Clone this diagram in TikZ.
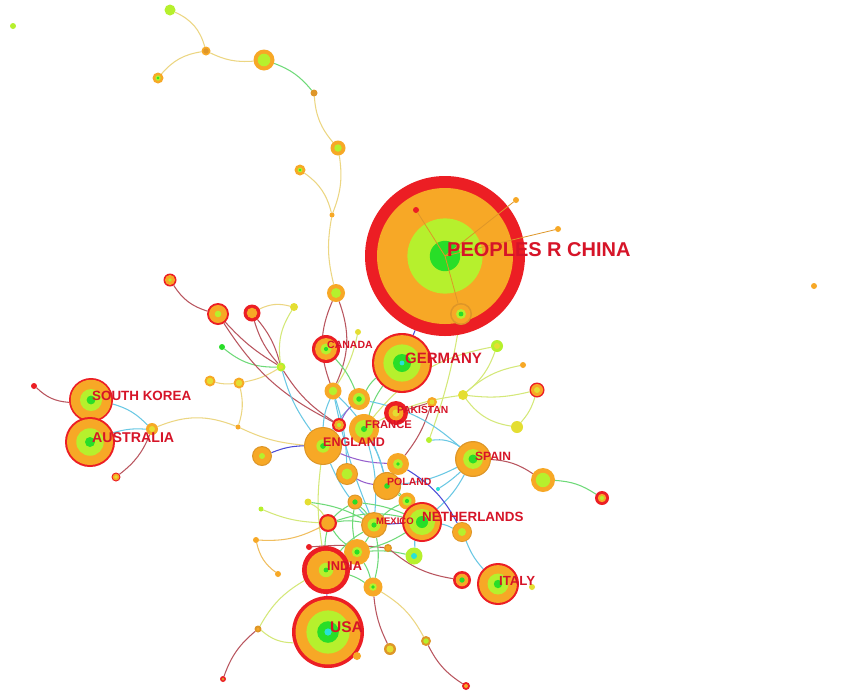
\documentclass[tikz,border=0pt]{standalone}
\usepackage{fontspec}
\setmainfont{Liberation Sans}
\pgfdeclarelayer{bglayer}
\pgfdeclarelayer{edgelayer}
\pgfsetlayers{bglayer,edgelayer,main}
\definecolor{cred}{RGB}{236,30,36}
\definecolor{cora}{RGB}{247,168,38}
\definecolor{cdo}{RGB}{222,150,40}
\definecolor{cyg}{RGB}{182,240,45}
\definecolor{cyel}{RGB}{228,222,50}
\definecolor{cgr}{RGB}{40,222,40}
\definecolor{ccy}{RGB}{40,225,215}
\definecolor{labc}{RGB}{214,20,40}
\definecolor{eY}{RGB}{236,214,130}
\definecolor{eYG}{RGB}{212,232,120}
\definecolor{eG}{RGB}{110,218,120}
\definecolor{eC}{RGB}{105,200,228}
\definecolor{eB}{RGB}{75,75,215}
\definecolor{eP}{RGB}{150,95,205}
\definecolor{eR}{RGB}{185,85,95}
\definecolor{eO}{RGB}{240,190,95}
\newcommand\mybub[5]{%
  \node[bubble, fill=#4, minimum size={2*#3pt}] (#1) at (#2) {};
  \foreach \bcol/\bfr in {#5}{\fill[\bcol] (#1.center) circle ({\bfr*#3pt});}%
}
\tikzset{
  bubble/.style={circle, inner sep=0pt, outer sep=0pt, draw=none},
  ed/.style={line width=1.05pt},
  lab/.style={text=labc, font=\bfseries, inner sep=0pt, anchor=west},
}
\begin{document}
\begin{tikzpicture}[x=1pt,y=-1pt]
\begin{pgfonlayer}{bglayer}
\fill[white] (0,0) rectangle (865,694);
\end{pgfonlayer}
\useasboundingbox (0,0) rectangle (865,694);

% ---------------- China and attached nodes
\mybub{cn}{445,256}{80}{cred}{cora/0.85, cyg/0.47, cgr/0.19}
\mybub{c4}{461,314}{11}{cdo}{cora/0.85, cyg/0.45, cgr/0.22}
\mybub{c6}{416,210}{3}{cred}{cred/0.5}
\mybub{c7}{516,200}{3}{cora}{cora/0.5}
\mybub{c8}{558,229}{3}{cora}{cora/0.5}
\draw[ed, cdo, line width=0.8pt] (cn.center) -- (c6);
\draw[ed, cdo, line width=0.8pt] (cn.center) -- (c7);
\draw[ed, cdo, line width=0.8pt] (cn.center) -- (c8);
\draw[ed, cdo, line width=0.8pt] (cn.center) -- (c4);

% ---------------- top chain
\mybub{t1}{170,10}{5.5}{cyg}{cyg/0.5}
\mybub{t2}{206,51}{4.5}{cora}{cdo/0.6}
\mybub{t3}{158,78}{5.5}{cora}{cyg/0.5, cgr/0.25}
\mybub{t4}{264,60}{10.5}{cora}{cyg/0.6}
\mybub{t5}{314,93}{3.5}{cdo}{cdo/0.5}
\mybub{t6}{338,148}{7.5}{cora}{cyg/0.5}
\mybub{t7}{300,170}{5.5}{cora}{cyg/0.45, cgr/0.2}
\mybub{t8}{332,215}{2.5}{cora}{cora/0.5}
\mybub{t9}{336,293}{9}{cora}{cyg/0.55}
\mybub{iso1}{13,26}{3}{cyg}{cyg/0.5}
\mybub{iso2}{814,286}{3}{cora}{cora/0.5}

% ---------------- left
\mybub{l1}{170,280}{6.5}{cred}{cora/0.78, cyg/0.3}
\mybub{l2}{218,314}{11}{cred}{cora/0.82, cyg/0.3}
\mybub{l3}{252,313}{8.5}{cred}{cora/0.62}
\mybub{l4}{294,307}{4}{cyel}{cyel/0.5}
\mybub{l5}{222,347}{3}{cgr}{cgr/0.5}
\mybub{l6}{281,367}{4.5}{cyg}{cyel/0.5}
\mybub{l7}{210,381}{5.5}{cora}{cyel/0.6}
\mybub{l8}{239,383}{5.5}{cora}{cyel/0.6}
\mybub{l9}{238,427}{2.5}{cora}{cora/0.5}
\mybub{l10}{152,429}{6}{cora}{cyel/0.5}
\mybub{l11}{116,477}{4.5}{cred}{cora/0.75, cyel/0.4}
\mybub{l12}{34,386}{3}{cred}{cred/0.5}
\mybub{kr}{91,400}{22}{cred}{cora/0.92, cyg/0.5, cgr/0.2}
\mybub{au}{90,442}{25}{cred}{cora/0.92, cyg/0.55, cgr/0.2}

% ---------------- centre
\mybub{ca}{326,349}{14}{cred}{cora/0.78, cyg/0.4, cgr/0.15}
\mybub{c1}{358,332}{3}{cyel}{cyel/0.5}
\mybub{c2}{333,391}{8.5}{cora}{cyg/0.5}
\mybub{c3}{359,399}{11}{cora}{cyg/0.55, cgr/0.25}
\mybub{de}{402,363}{30}{cred}{cora/0.93, cyg/0.62, cgr/0.3, ccy/0.08}
\mybub{c5}{497,346}{6}{cyg}{cyel/0.5}
\mybub{pk}{396,413}{12}{cred}{cora/0.62, cyel/0.3}
\mybub{c9}{432,402}{5}{cora}{cyel/0.5}
\mybub{c10}{339,425}{7}{cred}{cora/0.7, cyg/0.3}
\mybub{fr}{364,429}{15}{cora}{cyg/0.6, cgr/0.2}
\mybub{en}{323,446}{19}{cdo}{cora/0.94, cyg/0.35, cgr/0.15}
\mybub{c11}{262,456}{10}{cdo}{cora/0.88, cyg/0.3}
\mybub{c12}{398,464}{11}{cora}{cyg/0.45, cgr/0.18}
\mybub{c13}{347,474}{11}{cdo}{cora/0.9, cyg/0.5}
\mybub{pl}{387,486}{14}{cdo}{cora/0.92, cgr/0.2}
\mybub{es}{473,459}{18}{cdo}{cora/0.93, cyg/0.55, cgr/0.25}
\mybub{c14}{429,440}{3}{cyg}{cyg/0.5}
\mybub{c15}{438,489}{2}{ccy}{ccy/0.5}
\mybub{r1}{463,395}{5}{cyel}{cyel/0.5}
\mybub{r2}{537,390}{7.5}{cred}{cora/0.8, cyel/0.4}
\mybub{r3}{517,427}{6}{cyel}{cyel/0.5}
\mybub{r4}{523,365}{3}{cora}{cora/0.5}
\mybub{r5}{543,480}{12}{cora}{cyg/0.6}
\mybub{r6}{602,498}{7}{cred}{cora/0.6, cyg/0.3}
\mybub{c16}{355,502}{7.5}{cdo}{cora/0.85, cgr/0.35}
\mybub{c17}{407,501}{8.5}{cora}{cyg/0.55, cgr/0.25}
\mybub{c18}{308,502}{3.5}{cyel}{cyel/0.5}
\mybub{c19}{261,509}{2.5}{cyg}{cyg/0.5}
\mybub{c20}{328,523}{9}{cred}{cora/0.75}
\mybub{mx}{374,525}{13}{cdo}{cora/0.9, cyg/0.5, cgr/0.2}
\mybub{nl}{422,522}{20}{cred}{cora/0.9, cyg/0.65, cgr/0.3}
\mybub{c21}{462,532}{10}{cdo}{cora/0.9, cyg/0.4}
\mybub{c22}{256,540}{3}{cora}{cora/0.5}
\mybub{c23}{309,547}{3}{cred}{cred/0.5}
\mybub{c24}{357,552}{13}{cora}{cyg/0.4, cgr/0.2}
\mybub{c25}{388,548}{4}{cdo}{cora/0.6}
\mybub{c26}{414,556}{8.5}{cyg}{cyg/0.6, ccy/0.35}
\mybub{in}{326,570}{24}{cred}{cora/0.8, cyg/0.3, cgr/0.1}
\mybub{c27}{278,574}{3}{cora}{cora/0.5}
\mybub{c28}{373,587}{9.5}{cora}{cyg/0.4, cgr/0.2}
\mybub{c29}{462,580}{9}{cred}{cora/0.7, cgr/0.3}
\mybub{it}{498,584}{21}{cred}{cora/0.9, cyg/0.5, cgr/0.2}
\mybub{c30}{532,587}{3}{cyel}{cyel/0.5}
\mybub{us}{328,632}{36}{cred}{cora/0.9, cyg/0.6, cgr/0.3, ccy/0.1}
\mybub{c31}{258,629}{3.5}{cdo}{cora/0.5}
\mybub{c32}{223,679}{3}{cred}{cdo/0.5}
\mybub{c33}{390,649}{6}{cdo}{cyel/0.6}
\mybub{c34}{426,641}{5}{cdo}{cyg/0.55}
\mybub{c35}{466,686}{4}{cred}{cora/0.5}
\mybub{c36}{357,656}{4}{cora}{cora/0.5}

% ---------------- edges
\begin{pgfonlayer}{edgelayer}
\draw[ed, eY] (t1) to[bend left=25] (t2);
\draw[ed, eY] (t3) to[bend left=20] (t2);
\draw[ed, eY] (t2) to[bend right=15] (t4);
\draw[ed, eG] (t4) to[bend left=15] (t5);
\draw[ed, eY] (t5) to[bend right=18] (t6);
\draw[ed, eY] (t6) to[bend left=15] (t8);
\draw[ed, eY] (t7) to[bend left=20] (t8);
\draw[ed, eY] (t8) to[bend right=12] (t9);
\draw[ed, eR] (t9) to[bend left=22] (c2);
\draw[ed, eR] (t9) to[bend right=22] (c2);
\draw[ed, eYG] (c1) to[bend left=10] (c2);
% left
\draw[ed, eR] (l1) to[bend right=20] (l2);
\draw[ed, eR] (l2) to[bend right=8] (l6);
\draw[ed, eR] (l3) to[bend left=12] (l6);
\draw[ed, eR] (l3) to[bend right=12] (l6);
\draw[ed, eY] (l3) to[bend left=20] (l4);
\draw[ed, eYG] (l4) to[bend right=20] (l6);
\draw[ed, eG] (l5) to[bend right=20] (l6);
\draw[ed, eY] (l6) to[bend left=10] (l8);
\draw[ed, eY] (l7) to[bend right=10] (l8);
\draw[ed, eY] (l8) to[bend left=15] (l9);
\draw[ed, eY] (l10) to[bend left=22] (l9);
\draw[ed, eY] (l9) to[bend right=10] (en);
\draw[ed, eR] (l6) to[bend right=12] (c10);
\draw[ed, eR] (l2) to[bend right=15] (c10);
\draw[ed, eC] (l6) to[bend right=10] (en);
\draw[ed, eR] (l12) to[bend right=20] (kr);
\draw[ed, eC] (kr) to[bend left=15] (l10);
\draw[ed, eC] (au) to[bend left=10] (l10);
\draw[ed, eR] (l10) to[bend left=15] (l11);
% centre
\draw[ed, eB] (cn) -- (de);
\draw[ed, eYG] (c4) to[bend left=5] (c14);
\draw[ed, eC] (c2) to[bend right=10] (en);
\draw[ed, eC] (c2) to[bend left=8] (c13);
\draw[ed, eC] (c2) to[bend left=15] (pl);
\draw[ed, eC] (c2) to[bend right=5] (mx);
\draw[ed, eG] (ca) to[bend left=10] (c3);
\draw[ed, eG] (de) to[bend right=10] (fr);
\draw[ed, eG] (de) to[bend right=10] (c3);
\draw[ed, eYG] (c5) to[bend left=15] (r1);
\draw[ed, eYG] (c5) to[bend right=20] (fr);
\draw[ed, eYG] (r4) to[bend right=15] (r1);
\draw[ed, eYG] (r1) to[bend right=10] (r2);
\draw[ed, eYG] (r1) to[bend right=22] (r3);
\draw[ed, eYG] (r2) to[bend left=12] (r3);
\draw[ed, eYG] (r1) to[bend right=10] (fr);
\draw[ed, eR] (pk) -- (c9);
\draw[ed, eR] (c9) to[bend left=10] (c12);
\draw[ed, eR] (es) to[bend left=15] (r5);
\draw[ed, eG] (r5) to[bend left=15] (r6);
\draw[ed, eC] (es) to[bend right=20] (c14);
\draw[ed, eC] (es) to[bend left=10] (pl);
\draw[ed, eC] (es) to[bend left=5] (c15);
\draw[ed, eC] (es) to[bend left=10] (nl);
\draw[ed, eC] (es) to[bend right=15] (c3);
\draw[ed, eB] (en) to[bend right=10] (c11);
\draw[ed, eP] (en) to[bend right=10] (c12);
\draw[ed, eB] (c12) to[bend left=15] (c21);
\draw[ed, eP] (c13) to[bend right=10] (pl);
\draw[ed, eC] (en) to[bend right=10] (mx);
\draw[ed, eYG] (en) to[bend right=8] (in);
\draw[ed, eC] (fr) to[bend left=10] (mx);
\draw[ed, eC] (fr) to[bend left=8] (pl);
\draw[ed, eC] (c3) to[bend right=8] (en);
\draw[ed, eP] (c10) to[bend left=10] (c3);
\draw[ed, eG] (pl) to[bend left=8] (nl);
\draw[ed, eG] (pl) to[bend left=8] (c17);
\draw[ed, eG] (c16) to[bend left=8] (mx);
\draw[ed, eG] (c16) to[bend left=8] (nl);
\draw[ed, eG] (c16) to[bend right=8] (c20);
\draw[ed, eG] (c16) to[bend right=10] (c24);
\draw[ed, eG] (c17) to[bend left=8] (nl);
\draw[ed, eG] (c17) to[bend right=10] (mx);
\draw[ed, eYG] (c18) to[bend left=15] (c20);
\draw[ed, eG] (c18) to[bend left=10] (mx);
\draw[ed, eYG] (c19) to[bend right=10] (c20);
\draw[ed, eO] (c22) to[bend right=15] (c20);
\draw[ed, eO] (c22) to[bend right=20] (c27);
\draw[ed, eG] (c20) to[bend left=10] (mx);
\draw[ed, eG] (c20) to[bend left=15] (nl);
\draw[ed, eG] (c20) to[bend right=10] (c24);
\draw[ed, eG] (c20) to[bend right=5] (in);
\draw[ed, eR] (c23) to[bend left=5] (c25);
\draw[ed, eB] (mx) -- (nl);
\draw[ed, eG] (mx) to[bend left=8] (c24);
\draw[ed, eG] (mx) to[bend right=10] (in);
\draw[ed, eG] (in) to[bend left=10] (c24);
\draw[ed, eG] (c24) to[bend right=8] (nl);
\draw[ed, eG] (c24) to[bend left=8] (c26);
\draw[ed, eC] (nl) to[bend left=8] (c21);
\draw[ed, eC] (c21) to[bend right=10] (it);
\draw[ed, eC] (nl) to[bend right=8] (c26);
\draw[ed, eR] (c25) to[bend right=15] (c29);
\draw[ed, eG] (c24) to[bend left=8] (c28);
\draw[ed, eG] (mx) to[bend left=12] (c28);
\draw[ed, eG] (in) to[bend left=8] (c28);
\draw[ed, eP] (in) -- (us);
\draw[ed, eYG] (us) to[bend left=20] (c31);
\draw[ed, eR] (c31) to[bend right=15] (c32);
\draw[ed, eYG] (c31) to[bend left=15] (in);
\draw[ed, eR] (c28) to[bend right=10] (c33);
\draw[ed, eY] (c28) to[bend left=15] (c34);
\draw[ed, eR] (c34) to[bend right=15] (c35);
\draw[ed, eY] (us) to[bend left=10] (c36);
\end{pgfonlayer}

% ---------------- labels
\node[lab, font=\bfseries\fontsize{20}{20}\selectfont] (lcn) at (447,250) {PEOPLES R CHINA};
\node[lab, font=\bfseries\fontsize{15}{15}\selectfont] (lde) at (405,358) {GERMANY};
\node[lab, font=\bfseries\fontsize{10.5}{10.5}\selectfont] (lca) at (327,345) {CANADA};
\node[lab, font=\bfseries\fontsize{10.3}{10.3}\selectfont] (lpk) at (397,410) {PAKISTAN};
\node[lab, font=\bfseries\fontsize{11.2}{11.2}\selectfont] (lfr) at (365,425) {FRANCE};
\node[lab, font=\bfseries\fontsize{12.5}{12.5}\selectfont] (len) at (323,442) {ENGLAND};
\node[lab, font=\bfseries\fontsize{12}{12}\selectfont] (les) at (475,456) {SPAIN};
\node[lab, font=\bfseries\fontsize{10.5}{10.5}\selectfont] (lpl) at (387,482) {POLAND};
\node[lab, font=\bfseries\fontsize{13.4}{13.4}\selectfont] (lnl) at (422,517) {NETHERLANDS};
\node[lab, font=\bfseries\fontsize{9.5}{9.5}\selectfont] (lmx) at (376,521) {MEXICO};
\node[lab, font=\bfseries\fontsize{12.8}{12.8}\selectfont] (lin) at (327,566) {INDIA};
\node[lab, font=\bfseries\fontsize{13.2}{13.2}\selectfont] (lit) at (499,581) {ITALY};
\node[lab, font=\bfseries\fontsize{15.5}{15.5}\selectfont] (lus) at (330,627) {USA};
\node[lab, font=\bfseries\fontsize{13.4}{13.4}\selectfont] (lkr) at (92,396) {SOUTH KOREA};
\node[lab, font=\bfseries\fontsize{14.2}{14.2}\selectfont] (lau) at (92,438) {AUSTRALIA};
\end{tikzpicture}
\end{document}
